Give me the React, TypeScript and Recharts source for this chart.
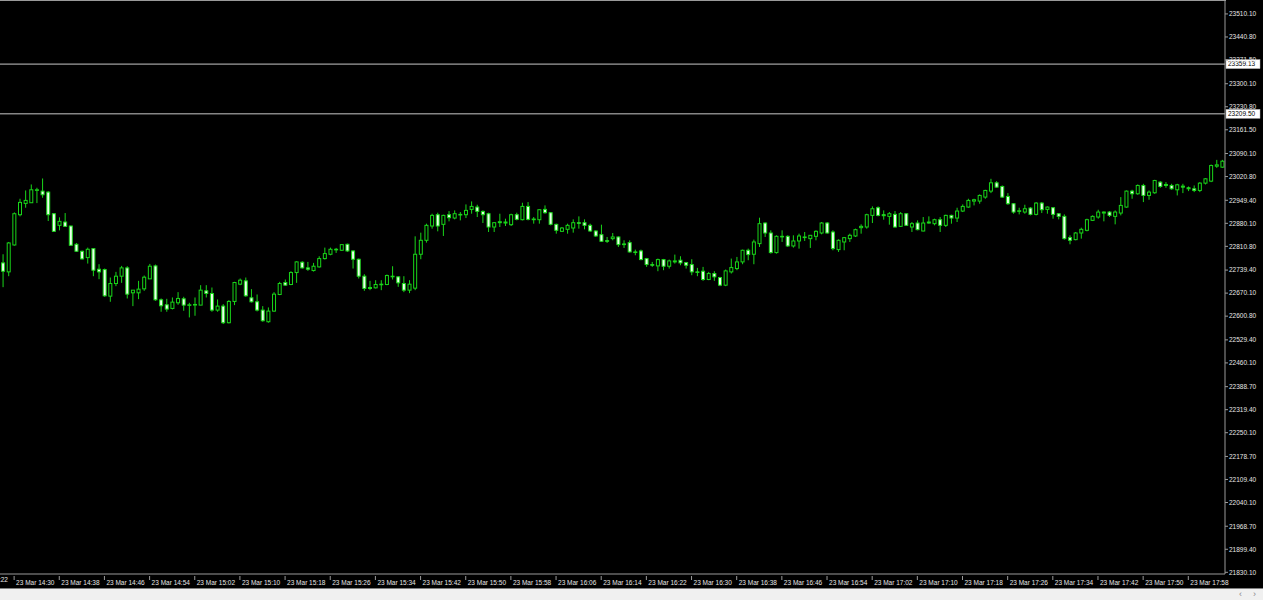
import React from 'react';
import { ComposedChart, Bar, XAxis, YAxis, ReferenceLine } from 'recharts';

// 1-minute candles, 23 Mar 14:28 .. 18:04
const startMinute = 14 * 60 + 28;

const opens = [
  22761, 22734, 22815, 22906, 22940, 22942, 22980, 22977, 22974, 22909,
  22874, 22884, 22872, 22817, 22796, 22777, 22804, 22742, 22741, 22661,
  22699, 22721, 22746, 22671, 22671, 22683, 22713, 22752, 22650, 22635,
  22624, 22641, 22653, 22634, 22635, 22634, 22677, 22669, 22619, 22631,
  22581, 22645, 22697, 22707, 22656, 22644, 22619, 22584, 22616, 22666,
  22702, 22696, 22732, 22763, 22746, 22738, 22749, 22774, 22787, 22801,
  22799, 22817, 22797, 22772, 22721, 22687, 22686, 22696, 22696, 22721,
  22719, 22699, 22679, 22685, 22787, 22829, 22872, 22906, 22877, 22906,
  22896, 22907, 22906, 22922, 22929, 22916, 22909, 22869, 22882, 22881,
  22876, 22906, 22891, 22931, 22893, 22891, 22922, 22912, 22877, 22856,
  22862, 22866, 22882, 22882, 22874, 22857, 22846, 22828, 22834, 22839,
  22818, 22822, 22794, 22797, 22774, 22756, 22752, 22771, 22751, 22764,
  22769, 22762, 22756, 22734, 22736, 22711, 22729, 22717, 22694, 22734,
  22744, 22764, 22799, 22787, 22819, 22881, 22851, 22792, 22840, 22841,
  22812, 22827, 22838, 22834, 22841, 22851, 22881, 22854, 22801, 22824,
  22834, 22842, 22867, 22869, 22904, 22927, 22906, 22901, 22907, 22871,
  22909, 22869, 22881, 22857, 22881, 22879, 22891, 22874, 22904, 22896,
  22917, 22929, 22947, 22947, 22959, 22977, 23002, 22991, 22961, 22939,
  22916, 22914, 22926, 22907, 22941, 22922, 22927, 22909, 22901, 22837,
  22831, 22851, 22859, 22889, 22899, 22911, 22914, 22901, 22911, 22929,
  22977, 22969, 22994, 22964, 22972, 23004, 22997, 22994, 22981, 22992,
  22987, 22984, 22979, 23001, 23007, 23052, 23049,
];

const highs = [
  22787, 22824, 22913, 22954, 22979, 22997, 22987, 23015, 22977, 22911,
  22898, 22911, 22873, 22821, 22798, 22807, 22804, 22757, 22744, 22717,
  22734, 22752, 22751, 22679, 22707, 22723, 22758, 22756, 22654, 22653,
  22657, 22673, 22659, 22641, 22657, 22694, 22694, 22687, 22651, 22637,
  22649, 22704, 22714, 22717, 22682, 22666, 22631, 22627, 22673, 22704,
  22711, 22736, 22766, 22766, 22764, 22761, 22781, 22807, 22807, 22806,
  22817, 22819, 22799, 22774, 22727, 22707, 22709, 22709, 22726, 22751,
  22721, 22721, 22709, 22841, 22852, 22879, 22909, 22912, 22906, 22917,
  22919, 22914, 22937, 22946, 22936, 22919, 22912, 22884, 22909, 22894,
  22909, 22912, 22942, 22944, 22899, 22922, 22934, 22914, 22879, 22869,
  22879, 22892, 22901, 22892, 22879, 22859, 22876, 22839, 22851, 22841,
  22829, 22829, 22801, 22801, 22776, 22764, 22774, 22773, 22771, 22786,
  22781, 22764, 22772, 22746, 22749, 22734, 22736, 22719, 22741, 22774,
  22779, 22801, 22804, 22831, 22897, 22883, 22859, 22844, 22859, 22844,
  22844, 22849, 22854, 22844, 22859, 22884, 22884, 22859, 22832, 22839,
  22849, 22864, 22877, 22909, 22931, 22931, 22919, 22914, 22917, 22914,
  22911, 22884, 22889, 22899, 22901, 22894, 22899, 22906, 22906, 22927,
  22937, 22954, 22954, 22967, 22981, 23014, 23007, 22994, 22971, 22941,
  22927, 22936, 22929, 22944, 22944, 22931, 22929, 22911, 22907, 22844,
  22854, 22867, 22894, 22904, 22921, 22916, 22917, 22919, 22959, 22979,
  22981, 22997, 22999, 22979, 23011, 23007, 23004, 22999, 22999, 22999,
  22991, 22994, 23004, 23016, 23057, 23071, 23071,
];

const lows = [
  22688, 22721, 22813, 22901, 22927, 22942, 22941, 22957, 22887, 22854,
  22859, 22869, 22812, 22794, 22771, 22759, 22721, 22712, 22659, 22644,
  22691, 22701, 22654, 22631, 22652, 22677, 22713, 22647, 22614, 22614,
  22621, 22635, 22617, 22597, 22602, 22634, 22657, 22614, 22614, 22577,
  22579, 22634, 22694, 22659, 22642, 22615, 22584, 22581, 22614, 22664,
  22692, 22694, 22701, 22744, 22737, 22735, 22747, 22771, 22784, 22791,
  22797, 22794, 22744, 22714, 22677, 22679, 22684, 22679, 22694, 22711,
  22689, 22673, 22670, 22679, 22772, 22822, 22864, 22856, 22842, 22886,
  22892, 22889, 22896, 22909, 22899, 22881, 22854, 22854, 22869, 22872,
  22872, 22889, 22889, 22889, 22879, 22879, 22909, 22874, 22849, 22854,
  22849, 22852, 22864, 22862, 22854, 22839, 22824, 22821, 22829, 22809,
  22806, 22792, 22784, 22769, 22749, 22749, 22736, 22739, 22744, 22759,
  22754, 22744, 22724, 22721, 22707, 22709, 22707, 22691, 22691, 22729,
  22739, 22757, 22769, 22757, 22809, 22839, 22789, 22789, 22824, 22809,
  22807, 22804, 22827, 22806, 22829, 22847, 22849, 22799, 22794, 22799,
  22824, 22839, 22849, 22864, 22881, 22901, 22891, 22876, 22867, 22869,
  22872, 22854, 22859, 22856, 22879, 22874, 22854, 22869, 22879, 22884,
  22914, 22927, 22934, 22939, 22954, 22971, 22987, 22957, 22936, 22909,
  22907, 22909, 22904, 22904, 22911, 22909, 22894, 22892, 22831, 22817,
  22829, 22834, 22856, 22887, 22894, 22886, 22899, 22877, 22904, 22927,
  22954, 22966, 22944, 22951, 22969, 22987, 22987, 22981, 22964, 22971,
  22977, 22974, 22974, 22997, 23004, 23047, 23047,
];

const closes = [
  22736, 22821, 22909, 22943, 22949, 22981, 22981, 22966, 22906, 22856,
  22886, 22871, 22814, 22796, 22773, 22802, 22739, 22734, 22662, 22699,
  22721, 22746, 22667, 22679, 22682, 22718, 22751, 22650, 22632, 22622,
  22643, 22654, 22634, 22635, 22636, 22679, 22669, 22619, 22631, 22581,
  22645, 22702, 22709, 22662, 22644, 22619, 22587, 22616, 22667, 22699,
  22694, 22732, 22764, 22746, 22742, 22751, 22774, 22789, 22802, 22802,
  22816, 22797, 22772, 22721, 22684, 22684, 22696, 22697, 22723, 22721,
  22701, 22679, 22697, 22787, 22829, 22874, 22904, 22872, 22904, 22897,
  22909, 22907, 22919, 22931, 22916, 22906, 22869, 22882, 22885, 22884,
  22906, 22892, 22931, 22892, 22891, 22921, 22912, 22877, 22859, 22866,
  22874, 22882, 22880, 22874, 22857, 22842, 22826, 22826, 22839, 22816,
  22816, 22794, 22793, 22771, 22756, 22754, 22771, 22751, 22767, 22767,
  22761, 22754, 22734, 22733, 22711, 22729, 22719, 22694, 22737, 22747,
  22764, 22799, 22786, 22824, 22879, 22851, 22792, 22841, 22841, 22812,
  22827, 22842, 22839, 22844, 22856, 22881, 22851, 22804, 22829, 22837,
  22844, 22861, 22871, 22906, 22924, 22904, 22903, 22909, 22869, 22909,
  22874, 22879, 22861, 22881, 22884, 22891, 22874, 22904, 22896, 22917,
  22931, 22949, 22951, 22964, 22979, 23002, 22989, 22959, 22939, 22914,
  22918, 22924, 22907, 22941, 22921, 22929, 22907, 22901, 22834, 22829,
  22851, 22862, 22891, 22901, 22914, 22914, 22904, 22914, 22934, 22977,
  22969, 22994, 22964, 22974, 23009, 22991, 22994, 22984, 22996, 22989,
  22984, 22979, 23001, 23014, 23054, 23056, 23067,
];

const timeTicks = [
  '14:30', '14:38', '14:46', '14:54', '15:02', '15:10', '15:18', '15:26', '15:34',
  '15:42', '15:50', '15:58', '16:06', '16:14', '16:22', '16:30', '16:38', '16:46',
  '16:54', '17:02', '17:10', '17:18', '17:26', '17:34', '17:42', '17:50', '17:58',
];

const priceTicks = [
  23510.1, 23440.8, 23371.5, 23300.1, 23230.8, 23161.5, 23090.1, 23020.8, 22949.4,
  22880.1, 22810.8, 22739.4, 22670.1, 22600.8, 22529.4, 22460.1, 22388.7, 22319.4,
  22250.1, 22178.7, 22109.4, 22040.1, 21968.7, 21899.4, 21830.1,
];

const levelLines = [23359.13, 23209.5];

const pad = (n: number) => String(n).padStart(2, '0');
const times = opens.map((_, i) => {
  const m = startMinute + i;
  return `${pad(Math.floor(m / 60))}:${pad(m % 60)}`;
});

const data = times.map((time, i) => ({
  time,
  open: opens[i],
  high: highs[i],
  low: lows[i],
  close: closes[i],
  range: [lows[i], highs[i]],
}));

const GREEN = '#19d619';
const AXIS = '#9a9a9a';
const FONT = '"Liberation Sans", Arial, sans-serif';

function Candle(props: any) {
  const { x, y, width, height, payload } = props;
  if (x == null || y == null || !payload) return null;
  const top = Math.min(y, y + height);
  const h = Math.abs(height);
  const cx = x + width / 2;
  const { open, close, high, low } = payload;
  const span = high - low || 1;
  const py = (v: number) => top + ((high - v) / span) * h;
  const oy = py(open);
  const cy = py(close);
  const bodyTop = Math.min(oy, cy);
  const bodyH = Math.max(Math.abs(cy - oy), 0.6);
  const bear = close < open;
  return (
    <g>
      <line x1={cx} x2={cx} y1={top} y2={top + h} stroke={GREEN} strokeWidth={1} />
      <rect
        x={cx - 1.5}
        y={bodyTop}
        width={3}
        height={bodyH}
        fill={bear ? '#eaffea' : '#000'}
        stroke={GREEN}
        strokeWidth={1}
      />
    </g>
  );
}

function TimeTick(props: any) {
  const { x, y, payload } = props;
  return (
    <g>
      <line x1={x} x2={x} y1={y} y2={y + 4} stroke={AXIS} />
      <text x={x + 2} y={y + 9} fill="#e6e6e6" fontSize={6.5} fontFamily={FONT} textAnchor="start">
        {`23 Mar ${payload.value}`}
      </text>
    </g>
  );
}

function PriceTick(props: any) {
  const { x, y, payload } = props;
  return (
    <text x={x} y={y + 2.3} fill="#e6e6e6" fontSize={6.5} fontFamily={FONT} textAnchor="start">
      {payload.value.toFixed(2)}
    </text>
  );
}

function PriceTag(props: any) {
  const { viewBox, value } = props;
  if (!viewBox) return null;
  const x = viewBox.x + viewBox.width + 1;
  const y = viewBox.y;
  return (
    <g>
      <rect x={x} y={y - 4.5} width={34} height={9} fill="#ffffff" stroke="#b0b0b0" strokeWidth={0.5} />
      <text x={x + 2} y={y + 2.3} fill="#000" fontSize={6.5} fontFamily={FONT}>
        {value.toFixed(2)}
      </text>
    </g>
  );
}

export default function App() {
  return (
    <div style={{ position: 'relative', width: 1263, height: 600, background: '#000', overflow: 'hidden' }}>
      <style>{'body{margin:0}'}</style>
      <div style={{ position: 'absolute', left: 0, top: 0, width: 1226, height: 1, background: AXIS }} />
      <ComposedChart
        width={1263}
        height={588}
        data={data}
        margin={{ top: 1, right: 0, bottom: 0, left: 0 }}
      >
        <XAxis
          dataKey="time"
          type="category"
          ticks={timeTicks}
          interval={0}
          height={14}
          axisLine={{ stroke: AXIS }}
          tickLine={false}
          tickSize={0}
          tick={<TimeTick />}
        />
        <YAxis
          orientation="right"
          width={38}
          domain={[21825, 23549]}
          allowDataOverflow
          ticks={priceTicks}
          interval={0}
          axisLine={{ stroke: AXIS }}
          tickLine={{ stroke: AXIS }}
          tickSize={3}
          tickMargin={1}
          tick={<PriceTick />}
        />
        {levelLines.map((v) => (
          <ReferenceLine
            key={v}
            y={v}
            stroke="#c8c8c8"
            strokeWidth={1}
            label={<PriceTag value={v} />}
          />
        ))}
        <Bar dataKey="range" shape={<Candle />} isAnimationActive={false} />
      </ComposedChart>
      <div
        style={{
          position: 'absolute',
          right: 1255,
          top: 576,
          color: '#e6e6e6',
          fontSize: 6.5,
          fontFamily: FONT,
          whiteSpace: 'nowrap',
        }}
      >
        23 Mar 14:22
      </div>
      <div
        style={{
          position: 'absolute',
          left: 0,
          top: 588,
          width: 1263,
          height: 12,
          background: '#f0f0f0',
          borderTop: '1px solid #808080',
          boxSizing: 'border-box',
        }}
      >
        <span style={{ position: 'absolute', left: 1239, top: 0, fontSize: 9, color: '#888', fontFamily: FONT }}>‹</span>
        <span style={{ position: 'absolute', left: 1253, top: 0, fontSize: 9, color: '#888', fontFamily: FONT }}>›</span>
      </div>
    </div>
  );
}
